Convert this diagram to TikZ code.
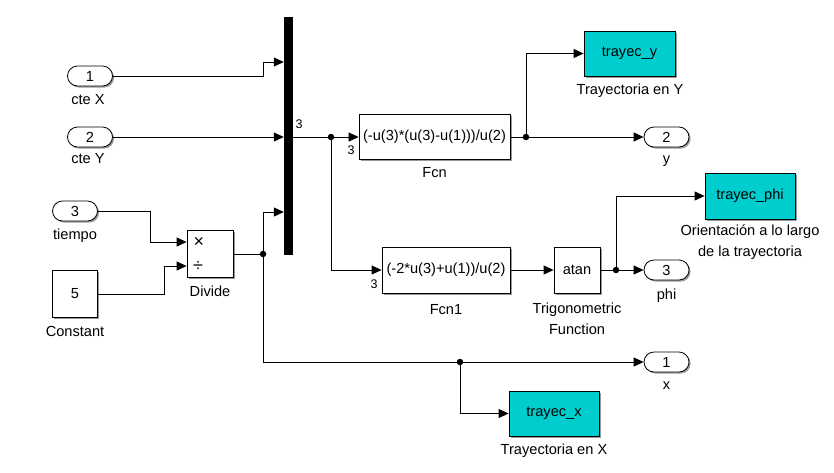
\documentclass[tikz,border=0pt]{standalone}
\usepackage{fontspec}
\setmainfont{Liberation Sans}
\usetikzlibrary{arrows.meta,shadows}
\definecolor{scopecyan}{RGB}{0,206,206}
\begin{document}
\begin{tikzpicture}[x=1pt,y=-1pt,
  font=\fontsize{14.6}{17}\selectfont,
  shad/.style={drop shadow={shadow xshift=1.6pt,shadow yshift=-1.6pt,fill=black!40,opacity=1}},
  blk/.style={draw,line width=0.8pt,fill=white,inner sep=0pt,shad},
  port/.style={draw,line width=0.8pt,fill=white,rounded corners=10pt,minimum width=45pt,minimum height=20pt,inner sep=0pt,shad},
  goto/.style={blk,fill=scopecyan},
  lbl/.style={inner sep=0pt,align=center,font=\fontsize{14.6}{21}\selectfont},
  small/.style={inner sep=0pt,font=\fontsize{12.5}{14}\selectfont},
  sig/.style={line width=1pt,-{Triangle[length=10pt,width=9pt]}},
  wire/.style={line width=1pt},
  dot/.style={circle,fill=black,inner sep=0pt,minimum size=6.5pt}]
\useasboundingbox (0,0) rectangle (834,472);
% inports
\node[port] (in1) at (90,76) {1};
\node[lbl] (in1l) at (88,100) {cte X};
\node[port] (in2) at (90,137) {2};
\node[lbl] (in2l) at (88,159) {cte Y};
\node[port] (in3) at (75,211) {3};
\node[lbl] (in3l) at (75,236) {tiempo};
\node[blk,minimum width=45pt,minimum height=47pt] (const) at (75,294) {5};
\node[lbl] (constl) at (75,331) {Constant};
% divide
\node[blk,minimum width=46pt,minimum height=47pt] (div) at (210,254) {};
\node[inner sep=0pt,font=\fontsize{18}{18}\selectfont] (mul) at (199,242) {\char"00D7};
\node[inner sep=0pt,font=\fontsize{18}{18}\selectfont] (dv) at (198,266) {\char"00F7};
\node[lbl] (divl) at (210,291) {Divide};
% bus
\node[fill=black,inner sep=0pt,minimum width=9pt,minimum height=238pt] (bus) at (288.5,136) {};
\node[small] (bus3) at (299,124) {3};
% fcn
\node[blk,minimum width=151pt,minimum height=45pt] (fcn) at (434.5,137) {(-u(3)*(u(3)-u(1)))/u(2)};
\node[lbl] (fcnl) at (434.5,173) {Fcn};
\node[small] (fcn3) at (351,150) {3};
\node[blk,minimum width=128pt,minimum height=46pt] (fcn1) at (446,270) {(-2*u(3)+u(1))/u(2)};
\node[lbl] (fcn1l) at (446,310) {Fcn1};
\node[small] (fcn13) at (374,284) {3};
\node[blk,minimum width=46pt,minimum height=46pt] (atan) at (577,270) {atan};
\node[lbl] (atanl) at (577,319) {Trigonometric\\Function};
% gotos
\node[goto,minimum width=91pt,minimum height=45pt] (ty) at (629.5,53.5) {trayec\_y};
\node[lbl] (tyl) at (630,91) {Trayectoria en Y};
\node[goto,minimum width=90pt,minimum height=46pt] (tphi) at (750,196) {trayec\_phi};
\node[lbl] (tphil) at (750,242) {Orientación a lo largo\\de la trayectoria};
\node[goto,minimum width=90pt,minimum height=45pt] (tx) at (554,413.5) {trayec\_x};
\node[lbl] (txl) at (554,451) {Trayectoria en X};
% outports
\node[port] (out2) at (666.5,137) {2};
\node[lbl] (out2l) at (666.5,161) {y};
\node[port] (out3) at (666.5,270) {3};
\node[lbl] (out3l) at (666.5,296) {phi};
\node[port] (out1) at (666.5,362) {1};
\node[lbl] (out1l) at (666.5,386) {x};
% junctions
\coordinate (j1) at (331,137);
\coordinate (j2) at (263,254);
\coordinate (j3) at (460,362);
\coordinate (j4) at (526,137);
\coordinate (j5) at (616,270);
% wires
\draw[sig] (in1.east) -- (263,76) |- (bus.west |- 0,62);
\draw[sig] (in2.east) -- (bus.west |- in2);
\draw[sig] (in3.east) -- (150,211) |- (div.west |- 0,242);
\draw[sig] (const.east) -- (164,294) |- (div.west |- 0,266);
\draw[wire] (div.east) -- (j2);
\draw[sig] (j2) |- (bus.west |- 0,212);
\draw[sig] (j2) |- (out1.west);
\draw[sig] (j3) |- (tx.west);
\draw[sig] (bus.east |- fcn.west) -- (fcn.west);
\draw[sig] (j1) |- (fcn1.west);
\draw[sig] (fcn.east) -- (out2.west);
\draw[sig] (j4) |- (ty.west);
\draw[sig] (fcn1.east) -- (atan.west);
\draw[sig] (atan.east) -- (out3.west);
\draw[sig] (j5) |- (tphi.west);
\foreach \j in {j1,j2,j3,j4,j5} \node[dot] at (\j) {};
\end{tikzpicture}
\end{document}
